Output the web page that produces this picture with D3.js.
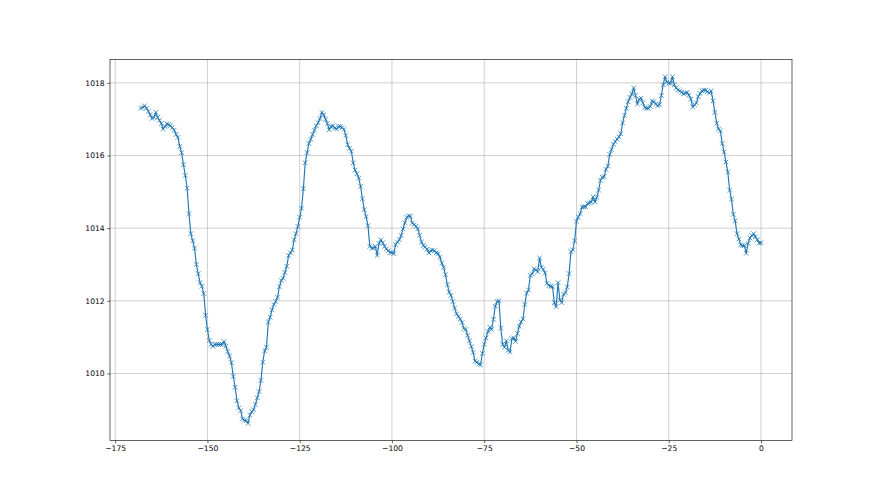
<!DOCTYPE html>
<html>
<head>
<meta charset="utf-8">
<script src="https://cdn.jsdelivr.net/npm/d3@7"></script>
<style>
  html, body { margin: 0; padding: 0; background: #fff; }
  svg { display: block; }
  .tick text { font-family: "DejaVu Sans", sans-serif; font-size: 7.6px; fill: #000; }
</style>
</head>
<body>
<svg id="chart" width="880" height="495"></svg>
<script>
// hours before now, one reading every half hour
const hoursStart = -168;
const hoursStep = 0.5;

// pressure readings (hPa)
const pressure = [
  1017.30, 1017.33, 1017.37, 1017.30, 1017.22, 1017.12, 1017.02, 1017.05, 1017.19, 1017.05,
  1016.97, 1016.88, 1016.73, 1016.80, 1016.87, 1016.85, 1016.82, 1016.77, 1016.70, 1016.58,
  1016.50, 1016.25, 1016.08, 1015.75, 1015.45, 1015.10, 1014.40, 1013.85, 1013.65, 1013.45,
  1013.00, 1012.75, 1012.50, 1012.40, 1012.20, 1011.60, 1011.21, 1010.91, 1010.80, 1010.75,
  1010.80, 1010.80, 1010.80, 1010.80, 1010.80, 1010.88, 1010.75, 1010.60, 1010.48, 1010.30,
  1009.92, 1009.62, 1009.25, 1009.05, 1008.98, 1008.75, 1008.71, 1008.70, 1008.63, 1008.85,
  1008.95, 1009.00, 1009.15, 1009.33, 1009.50, 1009.81, 1010.31, 1010.62, 1010.72, 1011.42,
  1011.55, 1011.75, 1011.90, 1011.98, 1012.10, 1012.39, 1012.56, 1012.62, 1012.78, 1012.95,
  1013.25, 1013.32, 1013.40, 1013.68, 1013.85, 1014.05, 1014.30, 1014.55, 1015.09, 1015.80,
  1016.08, 1016.33, 1016.45, 1016.58, 1016.70, 1016.82, 1016.90, 1017.02, 1017.19, 1017.12,
  1017.00, 1016.88, 1016.71, 1016.80, 1016.82, 1016.76, 1016.73, 1016.80, 1016.80, 1016.77,
  1016.72, 1016.55, 1016.30, 1016.20, 1016.12, 1015.80, 1015.60, 1015.50, 1015.38, 1015.15,
  1014.81, 1014.51, 1014.32, 1014.07, 1013.50, 1013.45, 1013.45, 1013.50, 1013.25, 1013.58,
  1013.68, 1013.60, 1013.50, 1013.43, 1013.38, 1013.33, 1013.33, 1013.30, 1013.55, 1013.62,
  1013.68, 1013.80, 1013.98, 1014.15, 1014.30, 1014.34, 1014.33, 1014.14, 1014.10, 1014.05,
  1013.98, 1013.80, 1013.62, 1013.52, 1013.48, 1013.42, 1013.32, 1013.38, 1013.40, 1013.38,
  1013.32, 1013.30, 1013.20, 1013.04, 1012.92, 1012.72, 1012.45, 1012.24, 1012.15, 1011.98,
  1011.80, 1011.64, 1011.57, 1011.50, 1011.40, 1011.24, 1011.21, 1011.05, 1010.90, 1010.74,
  1010.58, 1010.34, 1010.31, 1010.26, 1010.24, 1010.55, 1010.80, 1010.98, 1011.15, 1011.27,
  1011.21, 1011.49, 1011.85, 1011.98, 1012.00, 1011.25, 1010.80, 1010.72, 1010.90, 1010.64,
  1010.59, 1010.96, 1010.98, 1010.88, 1011.10, 1011.30, 1011.42, 1011.50, 1011.90, 1012.21,
  1012.30, 1012.70, 1012.74, 1012.88, 1012.85, 1012.80, 1013.18, 1012.92, 1012.87, 1012.76,
  1012.48, 1012.42, 1012.40, 1012.39, 1011.95, 1011.84, 1012.50, 1012.02, 1011.95, 1012.18,
  1012.22, 1012.38, 1012.75, 1013.35, 1013.40, 1013.65, 1014.19, 1014.31, 1014.40, 1014.58,
  1014.59, 1014.59, 1014.68, 1014.70, 1014.72, 1014.86, 1014.72, 1014.85, 1015.05, 1015.32,
  1015.40, 1015.42, 1015.62, 1015.71, 1016.03, 1016.16, 1016.31, 1016.38, 1016.45, 1016.51,
  1016.60, 1016.90, 1017.10, 1017.30, 1017.48, 1017.60, 1017.70, 1017.86, 1017.65, 1017.42,
  1017.55, 1017.58, 1017.45, 1017.32, 1017.30, 1017.30, 1017.35, 1017.50, 1017.48, 1017.42,
  1017.37, 1017.40, 1017.65, 1017.95, 1018.17, 1018.02, 1017.99, 1017.99, 1018.17, 1017.95,
  1017.86, 1017.81, 1017.78, 1017.74, 1017.70, 1017.72, 1017.74, 1017.66, 1017.55, 1017.34,
  1017.40, 1017.45, 1017.62, 1017.71, 1017.78, 1017.80, 1017.80, 1017.76, 1017.72, 1017.78,
  1017.50, 1017.19, 1016.89, 1016.73, 1016.68, 1016.33, 1016.10, 1015.82, 1015.55, 1015.05,
  1014.80, 1014.38, 1014.20, 1013.85, 1013.70, 1013.54, 1013.52, 1013.52, 1013.31, 1013.58,
  1013.73, 1013.80, 1013.85, 1013.76, 1013.68, 1013.59, 1013.60
];

const xTicks = [-175, -150, -125, -100, -75, -50, -25, 0];
const yTicks = [1010, 1012, 1014, 1016, 1018];

const data = pressure.map((p, i) => ({ h: hoursStart + i * hoursStep, p: p }));

const svg = d3.select("svg#chart");
const W = 880, H = 495;
// matplotlib default subplot box
const margin = { left: 0.125 * W, right: W - 0.9 * W, top: H - 0.88 * H, bottom: 0.11 * H };
const pw = W - margin.left - margin.right;
const ph = H - margin.top - margin.bottom;
const pt = 55 / 72; // points -> pixels

// 5% padding like matplotlib autoscale
const pad = (ext) => { const r = ext[1] - ext[0]; return [ext[0] - 0.05 * r, ext[1] + 0.05 * r]; };
const x = d3.scaleLinear().domain(pad(d3.extent(data, d => d.h))).range([0, pw]);
const y = d3.scaleLinear().domain(pad(d3.extent(data, d => d.p))).range([ph, 0]);

const g = svg.append("g").attr("transform", `translate(${margin.left},${margin.top})`);

const minus = d => (d < 0 ? "\u2212" + Math.abs(d) : String(d));

// grid
g.append("g").selectAll("line.vx").data(xTicks).join("line")
  .attr("x1", d => x(d)).attr("x2", d => x(d)).attr("y1", 0).attr("y2", ph)
  .attr("stroke", "#b0b0b0").attr("stroke-width", 0.8 * pt);
g.append("g").selectAll("line.hy").data(yTicks).join("line")
  .attr("y1", d => y(d)).attr("y2", d => y(d)).attr("x1", 0).attr("x2", pw)
  .attr("stroke", "#b0b0b0").attr("stroke-width", 0.8 * pt);

// line
const line = d3.line().x(d => x(d.h)).y(d => y(d.p));
g.append("path").datum(data)
  .attr("d", line)
  .attr("fill", "none")
  .attr("stroke", "#1f77b4")
  .attr("stroke-width", 1.5 * pt)
  .attr("stroke-linejoin", "round")
  .attr("stroke-linecap", "square");

// 'x' markers
const r = 3 * pt;
g.append("g").selectAll("path").data(data).join("path")
  .attr("transform", d => `translate(${x(d.h)},${y(d.p)})`)
  .attr("d", `M${-r},${-r}L${r},${r}M${-r},${r}L${r},${-r}`)
  .attr("stroke", "#1f77b4")
  .attr("stroke-width", 1 * pt)
  .attr("fill", "none");

// axes
const xAxis = d3.axisBottom(x).tickValues(xTicks).tickFormat(minus)
  .tickSize(3.5 * pt).tickPadding(3.5 * pt);
const yAxis = d3.axisLeft(y).tickValues(yTicks).tickFormat(d => d)
  .tickSize(3.5 * pt).tickPadding(3.5 * pt);

const gx = g.append("g").attr("transform", `translate(0,${ph})`).call(xAxis);
const gy = g.append("g").call(yAxis);
[gx, gy].forEach(a => {
  a.select(".domain").remove();
  a.selectAll(".tick line").attr("stroke", "#000").attr("stroke-width", 0.8 * pt);
});

// spines
g.append("rect")
  .attr("x", 0).attr("y", 0).attr("width", pw).attr("height", ph)
  .attr("fill", "none").attr("stroke", "#000").attr("stroke-width", 0.8 * pt);
</script>
</body>
</html>
